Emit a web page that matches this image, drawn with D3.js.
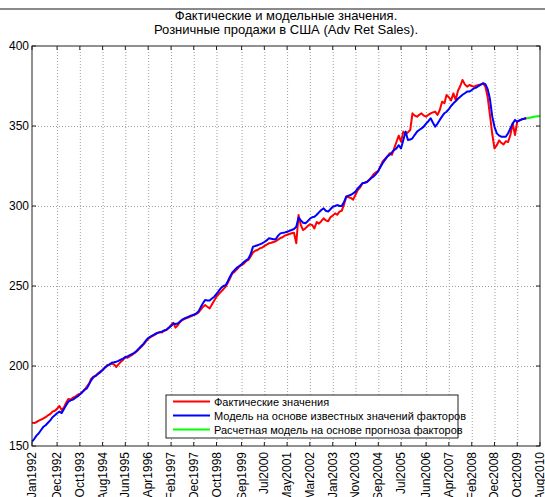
<!DOCTYPE html>
<html>
<head>
<meta charset="utf-8">
<script src="https://cdn.jsdelivr.net/npm/d3@7/dist/d3.min.js"></script>
<style>
  body { margin: 0; background: #fff; }
  svg text { font-family: "Liberation Sans", Arial, sans-serif; fill: #000; }
  .grid line { stroke: #a0a0a0; stroke-dasharray: 1,2; }
  .grid path { display: none; }
</style>
</head>
<body>
<div id="chart"></div>
<script>
// monthly values, first point = Jan 1992
const startMonth = "Jan1992";

const actual = [
  164.6, 164.3, 165.0, 165.8, 166.5, 167.2, 168.0, 169.2, 170.0, 171.5, 172.0, 173.2,
  175.0, 172.5, 174.0, 177.0, 179.4, 179.0, 180.2, 180.8, 182.0, 182.5, 183.8, 185.0,
  187.0, 189.0, 192.0, 193.2, 194.0, 195.5, 196.5, 197.5, 199.0, 200.6, 200.8, 201.5,
  201.0, 199.4, 201.0, 202.6, 203.8, 205.6, 205.2, 206.2, 207.0, 208.0, 209.2, 210.6,
  212.0, 213.5, 215.2, 216.9, 218.0, 218.8, 219.6, 220.6, 221.2, 221.0, 222.0, 222.5,
  224.0, 225.5, 227.0, 224.0, 225.5, 227.5, 228.7, 229.5, 230.0, 230.6, 231.2, 231.9,
  232.5, 233.3, 235.0, 236.8, 238.1, 237.0, 236.0, 238.5, 241.0, 243.3, 245.0, 246.5,
  248.0, 249.6, 252.0, 255.0, 257.9, 259.0, 260.5, 262.0, 263.1, 264.0, 265.5, 266.3,
  268.5, 271.0, 272.0, 272.5, 273.5, 274.0, 275.0, 275.8, 276.7, 277.0, 277.5, 278.0,
  279.0, 280.0, 280.5, 281.5, 282.0, 282.5, 283.0, 283.3, 276.7, 294.4, 288.0, 285.0,
  286.0, 287.5, 288.5, 288.1, 286.0, 290.0, 289.0, 290.5, 292.3, 291.0, 290.5, 293.0,
  294.0, 295.4, 294.5, 296.5, 297.0, 301.0, 306.0, 305.5, 305.0, 304.0, 307.0, 310.0,
  311.5, 314.2, 314.5, 315.0, 316.3, 318.0, 320.0, 321.0, 322.0, 325.0, 328.0, 329.5,
  331.0, 333.0, 332.0, 336.0, 340.0, 344.0, 340.2, 346.5, 345.0, 346.0, 347.5, 357.9,
  356.5, 355.8, 357.0, 357.9, 356.5, 355.8, 357.0, 357.9, 358.5, 359.0, 356.9, 360.0,
  365.2, 364.2, 369.4, 368.0, 366.0, 370.4, 366.3, 372.0, 375.0, 378.8, 376.0, 374.6,
  375.6, 375.0, 374.6, 375.2, 375.6, 376.0, 376.7, 374.6, 368.0, 357.0, 345.0, 336.0,
  338.0, 341.0, 339.5, 338.5, 340.5, 340.0, 344.4, 351.7, 344.4, 352.7, 353.5, 354.2,
  354.5, 355.0
];

const model = [
  152.7, 154.5, 156.5, 158.0, 160.0, 162.0, 163.0, 164.5, 166.0, 168.0, 169.2, 170.5,
  171.5, 170.6, 173.0, 175.5, 177.7, 178.5, 179.0, 180.0, 181.0, 182.2, 183.5, 185.0,
  186.0, 188.5, 191.0, 193.0, 193.8, 195.0, 196.0, 197.5, 199.0, 200.0, 201.0, 202.0,
  202.3, 202.7, 203.2, 204.0, 204.6, 205.5, 206.0, 206.8, 207.5, 208.3, 209.5, 211.0,
  212.5, 214.0, 215.8, 217.5, 218.3, 219.2, 220.0, 220.6, 221.0, 221.5, 222.2, 222.7,
  223.8, 225.0, 226.5, 226.3, 226.5, 227.8, 229.0, 229.8, 230.4, 231.0, 231.6, 232.0,
  232.8, 234.0, 236.5, 239.0, 241.3, 241.0, 241.0, 242.2, 243.3, 245.0, 247.0, 248.8,
  250.0, 250.5, 253.0, 256.0, 258.5, 260.0, 261.5, 262.5, 263.5, 265.0, 266.0, 267.0,
  270.0, 274.6, 275.0, 275.5, 276.0, 276.7, 277.5, 278.5, 279.8, 279.5, 279.2, 279.2,
  281.5, 282.9, 283.2, 283.5, 283.9, 284.5, 285.0, 285.6, 287.0, 292.8, 291.0, 289.5,
  289.2, 290.5, 292.0, 293.0, 293.3, 294.5, 296.0, 297.5, 298.5, 297.0, 296.5, 298.0,
  299.5, 300.0, 300.6, 300.0, 300.0, 302.5, 305.8, 306.5, 307.0, 307.9, 309.0, 311.0,
  312.5, 314.2, 314.5, 315.0, 316.3, 317.5, 318.5, 320.0, 322.0, 324.5, 327.0, 329.0,
  331.0, 332.0, 333.5, 335.0, 336.0, 338.0, 336.0, 341.3, 346.5, 341.3, 341.5, 342.3,
  344.5, 346.5, 347.5, 348.5, 349.6, 351.5, 353.0, 354.8, 352.0, 349.6, 351.5, 353.8,
  356.0, 358.0, 358.9, 360.5, 362.5, 364.2, 365.5, 367.0, 368.3, 369.5, 370.5, 371.5,
  371.5, 372.5, 373.5, 374.0, 375.0, 375.8, 376.7, 376.2, 373.0, 367.0, 356.0, 349.5,
  345.4, 344.0, 343.3, 343.3, 343.3, 345.5, 348.5, 351.5, 353.8, 352.7, 353.5, 354.2,
  354.5, 354.8
];

// forecast starts at Feb 2010
const forecastStart = "Feb2010";
const forecast = [354.8, 355.0, 355.3, 355.6, 355.9, 356.1, 356.3];

const xTickLabels = ["Jan1992", "Dec1992", "Oct1993", "Aug1994", "Jun1995", "Apr1996",
  "Feb1997", "Dec1997", "Oct1998", "Sep1999", "Jul2000", "May2001", "Mar2002", "Jan2003",
  "Nov2003", "Sep2004", "Jul2005", "Jun2006", "Apr2007", "Feb2008", "Dec2008", "Oct2009",
  "Aug2010"];
const yTicks = [150, 200, 250, 300, 350, 400];

const titleLines = ["Фактические и модельные значения.", "Розничные продажи в США (Adv Ret Sales)."];
const legendLabels = ["Фактические значения", "Модель на основе известных значений факторов",
  "Расчетная модель на основе прогноза факторов"];
const colors = ["#ff0000", "#0000ff", "#00ff00"];

const W = 545, H = 497;
const margin = { top: 46, right: 5, bottom: 51, left: 32 };
const width = W - margin.left - margin.right;
const height = H - margin.top - margin.bottom;

const parseMonth = d3.timeParse("%b%Y");
const toSeries = (start, vals) => vals.map((v, i) => ({ date: d3.timeMonth.offset(parseMonth(start), i), value: v }));

const series = [
  toSeries(startMonth, actual),
  toSeries(startMonth, model),
  toSeries(forecastStart, forecast)
];

const svg = d3.select("#chart").append("svg")
  .attr("width", W)
  .attr("height", H);

// window frame strip at the top
svg.append("rect")
  .attr("x", 0).attr("y", 8)
  .attr("width", W).attr("height", 2)
  .attr("fill", "#8a8a8a");

const g = svg.append("g")
  .attr("transform", `translate(${margin.left},${margin.top})`);

const tickDates = xTickLabels.map(parseMonth);

const x = d3.scaleTime()
  .domain([tickDates[0], tickDates[tickDates.length - 1]])
  .range([0, width]);

const y = d3.scaleLinear()
  .domain([150, 400])
  .range([height, 0]);

// grid
g.append("g")
  .attr("class", "grid")
  .attr("transform", `translate(0,${height})`)
  .call(d3.axisBottom(x).tickValues(tickDates.slice(1, -1)).tickSize(-height).tickFormat(""));

g.append("g")
  .attr("class", "grid")
  .call(d3.axisLeft(y).tickValues(yTicks.slice(1, -1)).tickSize(-width).tickFormat(""));

// lines
const line = d3.line()
  .x(d => x(d.date))
  .y(d => y(d.value));

series.forEach((s, i) => {
  g.append("path")
    .datum(s)
    .attr("fill", "none")
    .attr("stroke", colors[i])
    .attr("stroke-width", 2)
    .attr("stroke-linejoin", "round")
    .attr("d", line);
});

// box
g.append("rect")
  .attr("x", 0).attr("y", 0)
  .attr("width", width).attr("height", height)
  .attr("fill", "none")
  .attr("stroke", "#222")
  .attr("stroke-width", 1);

// inward ticks
const tickLen = 4;
g.append("g").selectAll("line.xb")
  .data(tickDates).join("line")
  .attr("x1", d => x(d)).attr("x2", d => x(d))
  .attr("y1", height).attr("y2", height - tickLen)
  .attr("stroke", "#222");
g.append("g").selectAll("line.xt")
  .data(tickDates).join("line")
  .attr("x1", d => x(d)).attr("x2", d => x(d))
  .attr("y1", 0).attr("y2", tickLen)
  .attr("stroke", "#222");
g.append("g").selectAll("line.yl")
  .data(yTicks).join("line")
  .attr("x1", 0).attr("x2", tickLen)
  .attr("y1", d => y(d)).attr("y2", d => y(d))
  .attr("stroke", "#222");
g.append("g").selectAll("line.yr")
  .data(yTicks).join("line")
  .attr("x1", width).attr("x2", width - tickLen)
  .attr("y1", d => y(d)).attr("y2", d => y(d))
  .attr("stroke", "#222");

// tick labels (the long ones run off the bottom edge, as in the original)
g.append("g").selectAll("text")
  .data(xTickLabels).join("text")
  .attr("transform", d => `translate(${x(parseMonth(d)) + 4},${height + 6}) rotate(-90)`)
  .attr("text-anchor", "end")
  .style("font-size", "12px")
  .text(d => d);

g.append("g").selectAll("text")
  .data(yTicks).join("text")
  .attr("x", -3)
  .attr("y", d => y(d) + 4)
  .attr("text-anchor", "end")
  .style("font-size", "12px")
  .text(d => d);

// title
svg.append("g").selectAll("text")
  .data(titleLines).join("text")
  .attr("x", margin.left + width / 2)
  .attr("y", (d, i) => 20 + i * 14)
  .attr("text-anchor", "middle")
  .style("font-size", "13px")
  .text(d => d);

// legend
const legend = svg.append("g")
  .attr("transform", "translate(166,395)");

legend.append("rect")
  .attr("width", 292).attr("height", 43)
  .attr("fill", "#fff")
  .attr("stroke", "#222");

legendLabels.forEach((label, i) => {
  const ly = 6.5 + i * 14;
  legend.append("line")
    .attr("x1", 7).attr("x2", 44)
    .attr("y1", ly).attr("y2", ly)
    .attr("stroke", colors[i])
    .attr("stroke-width", 2);
  legend.append("text")
    .attr("x", 48)
    .attr("y", ly + 4)
    .style("font-size", "11px")
    .text(label);
});
</script>
</body>
</html>
